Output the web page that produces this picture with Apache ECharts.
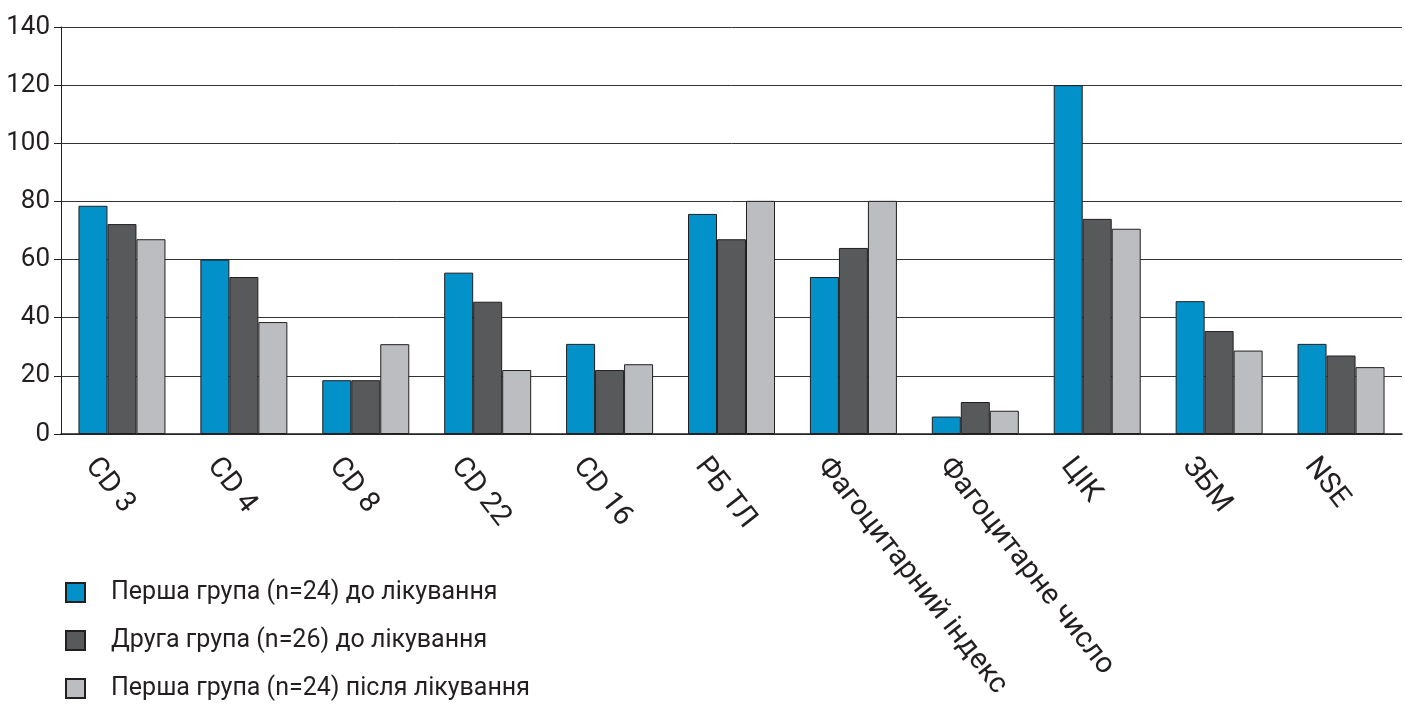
<!DOCTYPE html>
<html>
<head>
<meta charset="utf-8">
<script src="https://cdn.jsdelivr.net/npm/echarts@6/dist/echarts.min.js"></script>
<style>
    html, body { margin: 0; padding: 0; background: #fff; }
    #chart-01 { width: 1405px; height: 705px; }
</style>
</head>
<body>
<div id="chart-01"></div>
<script>
var categories = ['CD 3', 'CD 4', 'CD 8', 'CD 22', 'CD 16', 'РБ ТЛ', 'Фагоцитарний індекс', 'Фагоцитарне число', 'ЦІК', 'ЗБМ', 'NSE'];
var seriesNames = ['Перша група (n=24) до лікування', 'Друга група (n=26) до лікування', 'Перша група (n=24) після лікування'];
var group1Before = [78.5, 60, 18.5, 55.5, 31, 75.7, 54, 6, 120, 45.7, 31];
var group2Before = [72.2, 54, 18.5, 45.5, 22, 67, 64, 11, 74, 35.4, 27];
var group1After = [67, 38.5, 30.9, 22, 24, 80.2, 80.2, 8, 70.6, 28.7, 23];
var yTicks = [0, 20, 40, 60, 80, 100, 120, 140];

var fontName = "Roboto, 'Noto Sans', sans-serif";
var colors = ['#0291c9', '#58595b', '#bcbdc0'];
var values = [group1Before, group2Before, group1After];

var myChart01 = echarts.init(document.getElementById('chart-01'));
var series01 = [];
for (var i = 0; i < seriesNames.length; i++) {
    series01.push({
        name: seriesNames[i],
        type: 'bar',
        barWidth: 29,
        barGap: '0%',
        itemStyle: {
            color: colors[i],
            borderColor: '#231f20',
            borderWidth: 1
        },
        data: values[i]
    });
}

option01 = {
    animation: false,
    color: colors,
    legend: {
        orient: 'vertical',
        left: 65,
        top: 580,
        padding: 0,
        itemWidth: 19,
        itemHeight: 19,
        itemGap: 23,
        icon: 'rect',
        textStyle: {
            fontFamily: fontName,
            fontSize: 25,
            color: '#231f20',
            padding: [0, 0, 0, 21]
        },
        data: seriesNames
    },
    grid: {
        left: 61,
        right: 3,
        top: 27,
        bottom: 271
    },
    xAxis: {
        type: 'category',
        data: categories,
        axisLine: {
            lineStyle: { color: '#231f20', width: 1.5 }
        },
        axisTick: { show: false },
        axisLabel: {
            interval: 0,
            rotate: -52,
            margin: 3,
            verticalAlign: 'top',
            padding: [25, 0, 0, 0],
            fontFamily: fontName,
            fontSize: 29,
            color: '#231f20'
        }
    },
    yAxis: {
        type: 'value',
        min: yTicks[0],
        max: yTicks[yTicks.length - 1],
        interval: 20,
        axisLine: {
            show: true,
            lineStyle: { color: '#231f20', width: 1 }
        },
        axisTick: {
            show: true,
            length: 7,
            lineStyle: { color: '#231f20' }
        },
        splitLine: {
            lineStyle: { color: '#333333', width: 1 }
        },
        axisLabel: {
            margin: 11,
            fontFamily: fontName,
            fontSize: 26,
            color: '#231f20'
        }
    },
    series: series01
};
myChart01.setOption(option01);
</script>
</body>
</html>
